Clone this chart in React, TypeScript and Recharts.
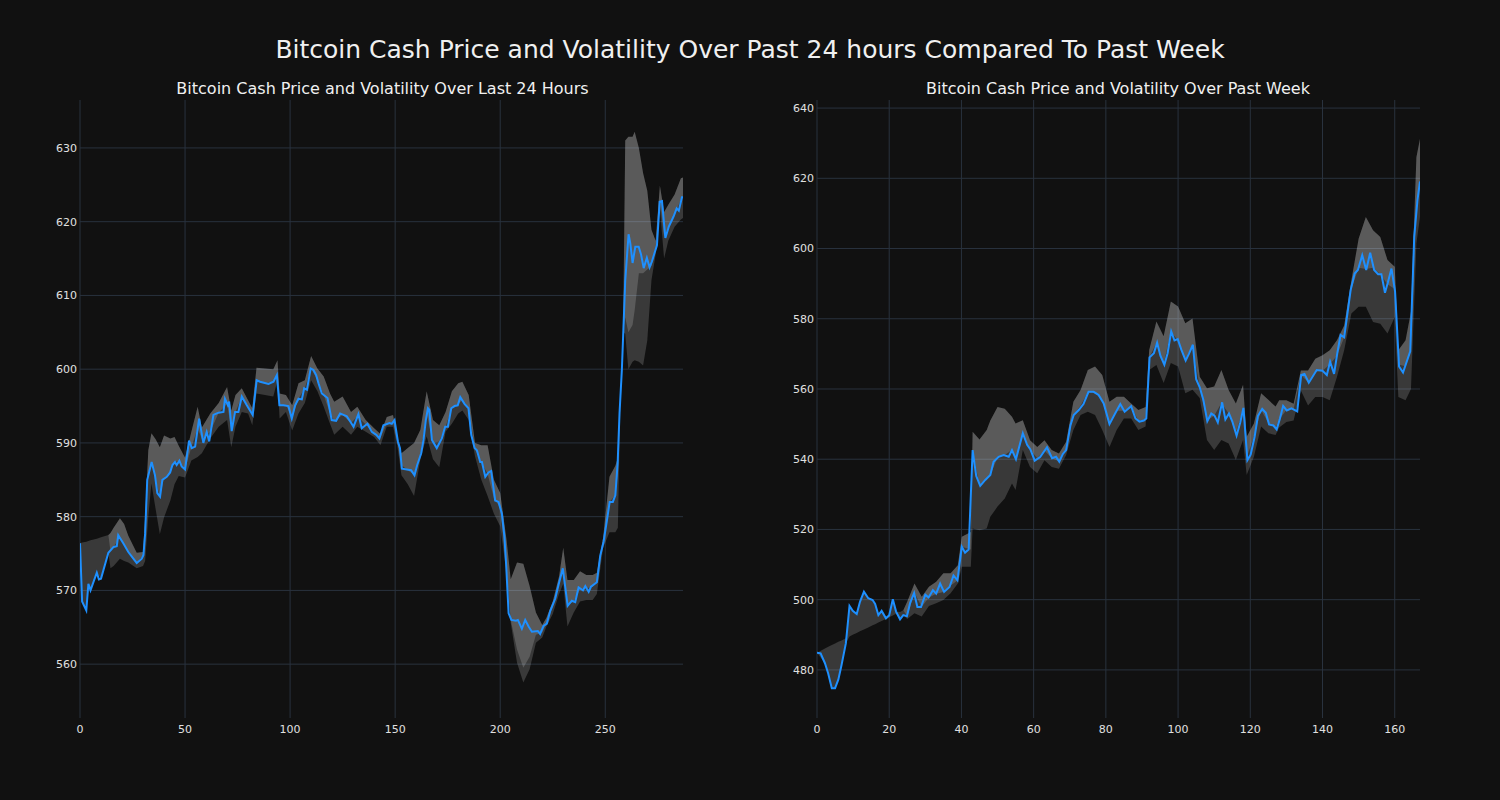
import React from "react";
import {
  ComposedChart,
  Line,
  Area,
  XAxis,
  YAxis,
  CartesianGrid,
} from "recharts";

// ---- last 24 hours (5 minute steps) ----
const dayPriceX = [
  0, 1, 3, 4, 5, 8, 9, 10, 13.5, 16, 17.5, 18.2, 20.6, 23, 25.4, 27, 29.4, 30.2, 31, 32,
  34.1, 35.7, 36.8, 38.1, 39.2, 41.3, 42.9, 44, 45.2, 46, 47.3, 48.4, 50, 51.9, 53.2, 54.8,
  56.7, 58.7, 60.3, 61.5, 63.5, 65.9, 68.3, 69, 70.4, 71, 72.2, 73.8, 75.4, 77, 79.4, 82.2,
  84.1, 85.7, 89.7, 92.1, 93.7, 94.9, 96.8, 99.2, 100.8, 102.4, 104, 105.6, 106.7, 108,
  109.8, 111.1, 112.4, 113.5, 115.1, 117.8, 119.8, 121.9, 123.8, 127, 128.6, 130.2, 132.5,
  134.1, 136.8, 138.9, 141, 142.5, 144.4, 147.3, 148.4, 149.7, 151.3, 152.3, 153.2, 157.6,
  159.2, 160.5, 162.4, 163.5, 164.6, 165.6, 166.2, 167.5, 169.8, 172.2, 173.8, 175.1, 176.7,
  178.3, 179.8, 181, 183, 184.9, 186.2, 187.8, 188.9, 190.5, 191.3, 192.9, 194.4, 195.7,
  197.6, 199.2, 200.8, 202, 202.8, 204, 205.3, 207.5, 208.4, 210.3, 211.9, 213.5, 215.1,
  217.9, 219, 220.6, 222.2, 223.8, 226.2, 227.8, 229.8, 232.1, 234.1, 235.7, 237.3, 239.4,
  240.5, 242.1, 243.2, 246, 247.6, 249.2, 250.8, 252.1, 253.6, 254.8, 255.9, 256.8, 257.9,
  259.5, 261.1, 261.9, 263, 264.3, 265.9, 267, 268.3, 269.8, 271.1, 272.2, 274.6, 275.9,
  277, 278.6, 280.2, 282.5, 284, 285, 286.5, 287,
];
const dayPrice = [
  576.4, 568.5, 567.3, 570.9, 570.0, 572.4, 571.5, 571.6, 575.1, 575.9, 576.0, 577.5, 576.4,
  575.2, 574.3, 573.7, 574.3, 574.8, 577.7, 585.0, 587.4, 585.6, 583.2, 582.7, 585.0, 585.4,
  586.0, 587.0, 587.4, 587.0, 587.6, 586.8, 586.4, 590.3, 589.3, 589.5, 593.3, 590.0, 591.5,
  590.2, 593.8, 594.1, 594.2, 596.0, 595.1, 595.6, 591.6, 594.2, 594.2, 596.3, 595.1, 593.8,
  598.5, 598.3, 598.0, 598.3, 599.2, 595.1, 595.1, 595.0, 593.3, 595.1, 596.0, 595.9, 597.4,
  597.2, 600.1, 599.9, 599.2, 598.1, 596.7, 596.1, 593.1, 593.0, 594.0, 593.6, 592.9, 592.2,
  593.9, 592.0, 592.6, 591.5, 591.1, 590.6, 592.4, 592.7, 592.6, 593.1, 590.2, 589.3, 586.5,
  586.3, 585.6, 587.0, 588.6, 590.4, 593.1, 594.7, 594.5, 590.4, 589.3, 590.6, 592.2, 592.2,
  594.7, 595.0, 595.1, 596.2, 595.3, 594.7, 591.1, 589.3, 589.0, 587.4, 587.4, 585.4, 586.0,
  586.2, 582.2, 582.0, 580.4, 577.3, 573.6, 566.9, 566.0, 565.9, 566.0, 564.8, 566.0, 565.1,
  564.4, 564.5, 564.1, 565.2, 565.5, 567.2, 568.9, 570.8, 573.0, 567.9, 568.6, 568.4, 570.4,
  570.0, 570.6, 569.8, 570.5, 571.1, 574.7, 576.6, 579.5, 582.0, 582.0, 582.9, 587.3, 594.1,
  599.9, 612.0, 618.3, 617.1, 614.4, 616.6, 616.6, 615.6, 613.7, 615.1, 613.8, 614.6, 616.8,
  622.7, 622.8, 617.8, 619.3, 620.7, 621.8, 621.5, 623.3, 623.3,
];
const dayBandX = [
  0, 1, 3, 4, 5, 8, 10, 13.5, 14.5, 16, 19, 21, 23, 27, 30, 31, 32.5, 34, 36, 38, 40, 43, 45,
  47, 50, 53, 56, 58, 62, 66, 70, 72, 74, 77, 80, 82, 84, 88, 92, 94, 95, 98, 101, 104, 107,
  110, 113, 116, 119, 121, 125, 129, 132, 136, 140, 143, 146, 149, 151, 153, 156, 159, 162,
  165, 168, 171, 174, 177, 180, 182, 185, 188, 191, 194, 197, 200, 203, 205, 208, 211, 214,
  217, 220, 222, 225, 228, 230, 232, 235, 238, 241, 244, 246, 249, 252, 254.8, 256, 257.3,
  258.5, 259.5, 261, 263, 264, 266, 268, 270, 272, 274, 276, 278, 280, 283, 286, 287,
];
const dayBandLow = [
  576.4, 568.5, 567.3, 570.9, 570.0, 572.4, 571.6, 575.1, 573.0, 573.3, 574.3, 574.0, 573.8,
  573.0, 573.3, 574.0, 580.0, 584.5, 581.0, 577.6, 579.9, 582.2, 584.4, 585.5, 585.3, 587.6,
  588.1, 588.6, 590.6, 592.2, 593.1, 589.4, 592.2, 594.2, 594.0, 592.4, 596.7, 596.5, 596.3,
  598.5, 593.3, 594.2, 591.7, 594.0, 595.4, 598.5, 597.0, 594.9, 592.6, 591.1, 592.2, 591.1,
  592.2, 591.5, 590.8, 589.7, 592.2, 592.2, 589.7, 585.6, 584.4, 582.8, 587.8, 590.9, 587.8,
  586.7, 591.5, 592.6, 594.0, 594.4, 593.1, 588.2, 585.0, 582.8, 580.4, 578.7, 572.4, 565.6,
  560.2, 557.5, 559.3, 562.9, 563.6, 565.1, 566.8, 569.5, 570.9, 565.1, 567.0, 568.5, 568.7,
  568.7, 569.5, 575.8, 577.9, 577.9, 578.5, 597.0, 605.0, 604.8, 600.0, 601.0, 601.2, 601.0,
  600.5, 603.9, 612.1, 615.6, 621.8, 615.0, 617.4, 619.3, 620.3, 620.5,
];
const dayBandMid = [
  576.4, 576.5, 576.6, 576.7, 576.8, 577.0, 577.2, 577.5, 575.3, 575.9, 577.2, 576.2, 575.2,
  573.7, 574.8, 577.7, 585.5, 587.4, 585.0, 582.7, 585.2, 586.0, 587.4, 587.5, 586.4, 589.4,
  592.0, 590.5, 591.5, 594.1, 595.3, 591.8, 594.2, 596.3, 595.0, 593.8, 598.5, 598.1, 598.3,
  599.2, 595.1, 595.1, 593.5, 596.0, 597.4, 600.1, 598.5, 596.5, 594.0, 593.0, 593.8, 592.7,
  593.6, 592.5, 591.2, 590.7, 592.6, 592.8, 590.2, 587.0, 586.3, 585.7, 588.4, 594.0, 590.0,
  590.2, 592.2, 594.8, 595.3, 595.8, 594.6, 589.2, 587.4, 585.8, 582.5, 581.2, 573.0, 566.0,
  562.0, 559.5, 561.0, 564.0, 564.3, 565.5, 567.8, 570.9, 573.0, 568.0, 568.5, 570.2, 570.3,
  570.5, 571.1, 576.6, 582.0, 582.9, 586.0, 597.0, 605.0, 607.0, 605.0, 606.0, 608.0, 613.0,
  613.0, 613.5, 614.0, 616.2, 622.7, 618.0, 619.3, 620.9, 623.0, 623.3,
];
const dayBandHigh = [
  576.4, 576.5, 576.6, 576.7, 576.8, 577.0, 577.2, 577.5, 577.8, 578.5, 579.8, 579.0, 577.4,
  575.1, 575.2, 580.0, 589.0, 591.3, 590.5, 589.4, 591.0, 590.6, 590.8, 589.6, 588.0, 591.5,
  594.9, 592.1, 594.0, 595.4, 597.6, 594.4, 596.5, 597.4, 595.8, 594.7, 600.2, 600.1, 600.0,
  601.2, 596.7, 596.5, 595.1, 598.1, 598.5, 601.8, 600.1, 599.0, 596.7, 595.6, 596.3, 594.2,
  594.9, 593.1, 592.0, 591.2, 593.5, 593.8, 590.8, 588.6, 589.3, 590.0, 591.8, 597.0, 593.1,
  592.4, 594.2, 597.0, 598.1, 598.3, 596.5, 590.0, 589.7, 589.7, 585.0, 583.2, 576.9, 571.5,
  573.8, 573.6, 570.6, 567.0, 565.3, 566.3, 568.5, 571.9, 575.8, 571.4, 571.4, 572.6, 572.1,
  572.1, 572.4, 577.2, 585.4, 586.9, 588.0, 597.0, 605.0, 631.0, 631.5, 631.5, 632.2, 630.0,
  626.6, 624.2, 618.9, 617.4, 624.9, 621.3, 622.3, 623.7, 625.9, 626.0,
];

// ---- past week (hourly) ----
const weekPriceX = [
  0, 1, 2.2, 3.1, 4.1, 5, 5.9, 6.8, 8, 9, 9.9, 11, 11.9, 13, 14.2, 15.4, 16.1, 17, 17.9,
  19.1, 20, 21, 21.9, 23, 23.9, 24.9, 25.8, 26.9, 27.8, 28.8, 30, 30.9, 32.1, 33, 34.1, 35.2,
  36.7, 37.8, 38.9, 40.1, 41, 42, 43.1, 44.1, 45.2, 46.6, 48, 48.9, 50.3, 51.7, 53.1, 54,
  55.1, 57, 58.2, 59.1, 60.3, 61.8, 63.7, 65.1, 66.2, 67.1, 68.1, 69, 70.2, 71.1, 72.5, 73.8,
  75.2, 76.6, 78, 79.4, 81, 82.6, 84, 85.2, 87, 88.2, 89.3, 90.5, 91.2, 92.1, 93.3, 94.2,
  95.1, 96.2, 97.1, 98.1, 99, 99.9, 100.9, 102.1, 103, 104.1, 105, 106, 107, 108.1, 109.2,
  110.1, 111, 112.2, 113.1, 114.1, 115, 116.2, 117.2, 118.1, 119.2, 120.1, 121.2, 122.1,
  123.3, 124.3, 125.2, 126.4, 127.3, 128.2, 129.1, 130.1, 131.4, 133, 134.1, 135, 136.2,
  138.4, 140, 141.2, 142.1, 143.2, 144.1, 145, 146, 146.9, 147.8, 148.9, 149.8, 151, 152.1,
  153.2, 154.3, 155.4, 156.3, 157.3, 158.1, 159.1, 160.1, 161.2, 162.3, 164.3, 165.4, 166.3,
  167,
];
const weekPrice = [
  484.9, 484.7, 481.9, 479.0, 474.8, 474.8, 477.2, 481.4, 487.6, 498.2, 496.8, 495.9, 499.4,
  502.3, 500.4, 499.9, 498.8, 495.6, 496.8, 494.7, 495.6, 500.1, 496.6, 494.4, 495.6, 495.3,
  499.1, 501.9, 497.9, 497.9, 501.4, 500.6, 502.7, 501.7, 504.6, 502.2, 503.6, 506.9, 505.5,
  515.1, 513.4, 514.3, 542.6, 535.2, 532.4, 534.1, 535.5, 539.3, 540.7, 541.2, 540.7, 542.6,
  540.0, 547.4, 544.1, 542.8, 539.6, 540.6, 543.4, 540.3, 540.7, 539.3, 541.5, 542.6, 549.7,
  552.6, 554.0, 555.7, 559.2, 559.2, 558.3, 555.9, 550.0, 553.1, 555.7, 553.5, 555.1, 551.6,
  550.7, 551.0, 551.6, 569.0, 570.2, 573.2, 569.5, 566.9, 570.2, 576.4, 573.8, 574.2, 571.2,
  568.1, 570.0, 572.6, 562.8, 560.5, 556.9, 550.8, 553.0, 552.4, 550.5, 556.2, 551.3, 553.0,
  550.8, 546.7, 550.4, 554.6, 539.7, 541.3, 546.4, 552.3, 554.3, 553.2, 549.9, 549.6, 548.5,
  551.5, 555.2, 553.9, 554.5, 553.6, 564.0, 564.3, 561.8, 565.4, 565.2, 564.0, 567.8, 564.3,
  570.2, 575.4, 574.7, 581.5, 588.2, 592.9, 593.9, 598.1, 593.9, 598.8, 593.9, 592.7, 592.7,
  587.4, 590.3, 594.3, 587.7, 566.4, 564.7, 570.7, 603.4, 613.8, 619.1,
];
const weekBandX = [
  0, 2.2, 3.1, 4.1, 5, 5.9, 6.8, 8, 9, 9.9, 11, 11.9, 13, 14.2, 15.4, 16.1, 17, 17.9, 19.1,
  20, 21, 21.9, 23, 23.9, 25, 27, 29, 31, 33, 35, 37, 39, 40.1, 42.6, 43.1, 45, 47, 48, 50,
  52, 54, 55, 57, 59, 61, 63, 65, 67, 69, 71, 73, 75, 77, 79, 81, 83, 85, 87, 89, 91, 92, 94,
  96, 98, 100, 102, 104, 106, 108, 110, 112, 114, 116, 118, 119, 121, 123, 125, 127, 128,
  130, 132, 134, 136, 138, 140, 142, 144, 146, 148, 150, 152, 154, 156, 158, 160, 161, 163,
  164.5, 166, 167,
];
const weekBandLow = [
  484.9, 481.9, 479.0, 474.8, 474.8, 477.2, 481.4, 487.6, 489.5, 490.0, 490.5, 491.0, 491.5,
  492.1, 492.7, 493.0, 493.5, 493.9, 494.5, 495.0, 495.5, 496.0, 494.4, 495.6, 494.5, 496.1,
  495.2, 498.2, 499.0, 499.9, 501.8, 504.6, 509.4, 509.4, 520.3, 519.8, 520.3, 523.6, 526.5,
  528.8, 533.1, 531.2, 542.6, 537.8, 536.0, 539.7, 537.8, 537.3, 541.2, 548.3, 552.6, 553.5,
  552.6, 548.3, 543.5, 548.3, 551.6, 551.6, 548.3, 549.3, 565.4, 566.8, 561.7, 567.4, 566.4,
  558.8, 559.8, 557.4, 545.5, 542.6, 545.5, 544.5, 539.8, 545.5, 535.5, 540.7, 549.3, 547.4,
  546.9, 549.0, 550.6, 551.0, 559.6, 555.3, 557.7, 557.7, 556.8, 563.4, 571.0, 581.5, 583.4,
  583.4, 579.1, 578.6, 575.8, 580.5, 557.7, 556.8, 560.0, 601.4, 609.0,
];
const weekBandMid = [
  484.9, 486.1, 486.6, 487.1, 487.5, 488.0, 488.4, 489.0, 498.2, 496.8, 495.9, 499.4, 502.3,
  500.4, 499.9, 498.8, 495.6, 496.8, 494.7, 495.6, 500.1, 496.6, 496.5, 497.0, 495.3, 501.9,
  498.0, 500.6, 501.7, 502.2, 504.0, 505.5, 515.1, 514.3, 542.6, 532.4, 534.5, 535.5, 540.5,
  541.2, 542.6, 540.0, 547.4, 542.8, 540.3, 542.5, 540.3, 539.4, 542.6, 552.6, 555.2, 559.0,
  559.0, 556.5, 550.0, 553.8, 553.8, 555.1, 550.9, 551.4, 569.0, 573.0, 567.2, 576.2, 573.8,
  568.3, 572.5, 560.5, 551.0, 552.4, 556.0, 553.0, 547.5, 554.4, 540.5, 546.4, 554.0, 550.3,
  549.0, 551.3, 554.0, 554.2, 564.0, 562.0, 565.0, 565.2, 567.0, 569.5, 574.7, 588.5, 594.5,
  594.2, 594.5, 592.7, 589.8, 588.5, 567.0, 566.5, 571.0, 612.0, 619.1,
];
const weekBandHigh = [
  484.9, 486.1, 486.6, 487.1, 487.5, 488.0, 488.4, 489.0, 498.2, 496.8, 495.9, 499.4, 502.3,
  500.4, 499.9, 498.8, 495.6, 496.8, 494.7, 495.6, 500.1, 496.6, 496.5, 497.0, 499.5, 504.6,
  500.8, 503.7, 505.1, 507.5, 507.5, 509.8, 517.9, 519.3, 547.8, 545.6, 548.3, 551.0, 554.9,
  554.4, 552.1, 550.2, 551.1, 545.4, 543.5, 545.4, 542.6, 541.6, 545.0, 556.4, 559.7, 565.4,
  566.4, 564.0, 556.4, 557.8, 557.8, 555.9, 554.0, 554.9, 571.1, 579.2, 575.0, 584.9, 583.5,
  578.7, 580.1, 563.5, 560.2, 560.7, 565.4, 559.7, 555.9, 561.2, 546.4, 550.2, 558.8, 556.9,
  555.0, 556.8, 556.8, 555.8, 565.3, 565.3, 568.6, 569.6, 571.0, 573.9, 578.1, 591.0, 602.8,
  609.0, 605.2, 603.3, 596.7, 594.8, 571.0, 573.9, 582.0, 626.0, 631.3,
];

const dayXTicks = [0, 50, 100, 150, 200, 250];
const dayYTicks = [560, 570, 580, 590, 600, 610, 620, 630];
const weekXTicks = [0, 20, 40, 60, 80, 100, 120, 140, 160];
const weekYTicks = [480, 500, 520, 540, 560, 580, 600, 620, 640];

type Row = {
  x: number;
  price?: number;
  band?: [number, number];
  light?: [number, number];
};

function buildRows(
  px: number[],
  py: number[],
  bx: number[],
  lo: number[],
  mid: number[],
  hi: number[]
): Row[] {
  const map = new Map<number, Row>();
  const get = (x: number) => {
    let r = map.get(x);
    if (!r) {
      r = { x };
      map.set(x, r);
    }
    return r;
  };
  px.forEach((x, i) => {
    get(x).price = py[i];
  });
  bx.forEach((x, i) => {
    const r = get(x);
    r.band = [lo[i], hi[i]];
    r.light = [mid[i], hi[i]];
  });
  return [...map.values()].sort((a, b) => a.x - b.x);
}

const dayRows = buildRows(dayPriceX, dayPrice, dayBandX, dayBandLow, dayBandMid, dayBandHigh);
const weekRows = buildRows(weekPriceX, weekPrice, weekBandX, weekBandLow, weekBandMid, weekBandHigh);

const FONT = "'DejaVu Sans', sans-serif";
const tickStyle = { fill: "#e0e0e0", fontSize: 11, fontFamily: FONT };
const gridColor = "#29323e";

type PanelProps = {
  rows: Row[];
  xDomain: [number, number];
  yDomain: [number, number];
  xTicks: number[];
  yTicks: number[];
};

function Panel({ rows, xDomain, yDomain, xTicks, yTicks }: PanelProps) {
  // grid only at the tick values (no frame at the plot edges)
  const hGen = ({ offset }: any) =>
    yTicks.map(
      (t) =>
        offset.top +
        ((yDomain[1] - t) / (yDomain[1] - yDomain[0])) * offset.height
    );
  const vGen = ({ offset }: any) =>
    xTicks.map(
      (t) =>
        offset.left +
        ((t - xDomain[0]) / (xDomain[1] - xDomain[0])) * offset.width
    );
  return (
    <ComposedChart
      width={750}
      height={800}
      data={rows}
      margin={{ top: 100, right: 67, left: 40, bottom: 52 }}
    >
      <CartesianGrid
        stroke={gridColor}
        strokeWidth={1}
        horizontalCoordinatesGenerator={hGen}
        verticalCoordinatesGenerator={vGen}
      />
      <XAxis
        type="number"
        dataKey="x"
        domain={xDomain}
        ticks={xTicks}
        allowDataOverflow
        axisLine={false}
        tickLine={false}
        tickSize={0}
        tickMargin={7}
        height={30}
        tick={tickStyle}
      />
      <YAxis
        type="number"
        domain={yDomain}
        ticks={yTicks}
        allowDataOverflow
        axisLine={false}
        tickLine={false}
        tickSize={0}
        tickMargin={3}
        width={40}
        tick={tickStyle}
      />
      <Area
        type="linear"
        dataKey="band"
        stroke="none"
        fill="#ffffff"
        fillOpacity={0.17}
        connectNulls
        dot={false}
        activeDot={false}
        isAnimationActive={false}
      />
      <Area
        type="linear"
        dataKey="light"
        stroke="none"
        fill="#ffffff"
        fillOpacity={0.17}
        connectNulls
        dot={false}
        activeDot={false}
        isAnimationActive={false}
      />
      <Line
        type="linear"
        dataKey="price"
        stroke="#1e90ff"
        strokeWidth={2}
        dot={false}
        activeDot={false}
        connectNulls
        isAnimationActive={false}
      />
    </ComposedChart>
  );
}

export default function App() {
  return (
    <div
      style={{
        position: "absolute",
        left: 0,
        top: 0,
        width: 1500,
        height: 800,
        background: "#111111",
        fontFamily: FONT,
        color: "#f0f0f0",
        overflow: "hidden",
      }}
    >
      <div
        style={{
          position: "absolute",
          top: 34,
          left: 0,
          width: 1500,
          textAlign: "center",
          fontSize: 25,
          lineHeight: "32px",
        }}
      >
        Bitcoin Cash Price and Volatility Over Past 24 hours Compared To Past Week
      </div>
      <div
        style={{
          position: "absolute",
          top: 78,
          left: 81,
          width: 603,
          textAlign: "center",
          fontSize: 16,
          lineHeight: "22px",
        }}
      >
        Bitcoin Cash Price and Volatility Over Last 24 Hours
      </div>
      <div
        style={{
          position: "absolute",
          top: 78,
          left: 817,
          width: 602,
          textAlign: "center",
          fontSize: 16,
          lineHeight: "22px",
        }}
      >
        Bitcoin Cash Price and Volatility Over Past Week
      </div>
      <div style={{ position: "absolute", left: 0, top: 0 }}>
        <Panel
          rows={dayRows}
          xDomain={[0, 287]}
          yDomain={[552.7, 636.5]}
          xTicks={dayXTicks}
          yTicks={dayYTicks}
        />
      </div>
      <div style={{ position: "absolute", left: 737, top: 0 }}>
        <Panel
          rows={weekRows}
          xDomain={[0, 167]}
          yDomain={[466.3, 642.3]}
          xTicks={weekXTicks}
          yTicks={weekYTicks}
        />
      </div>
    </div>
  );
}
